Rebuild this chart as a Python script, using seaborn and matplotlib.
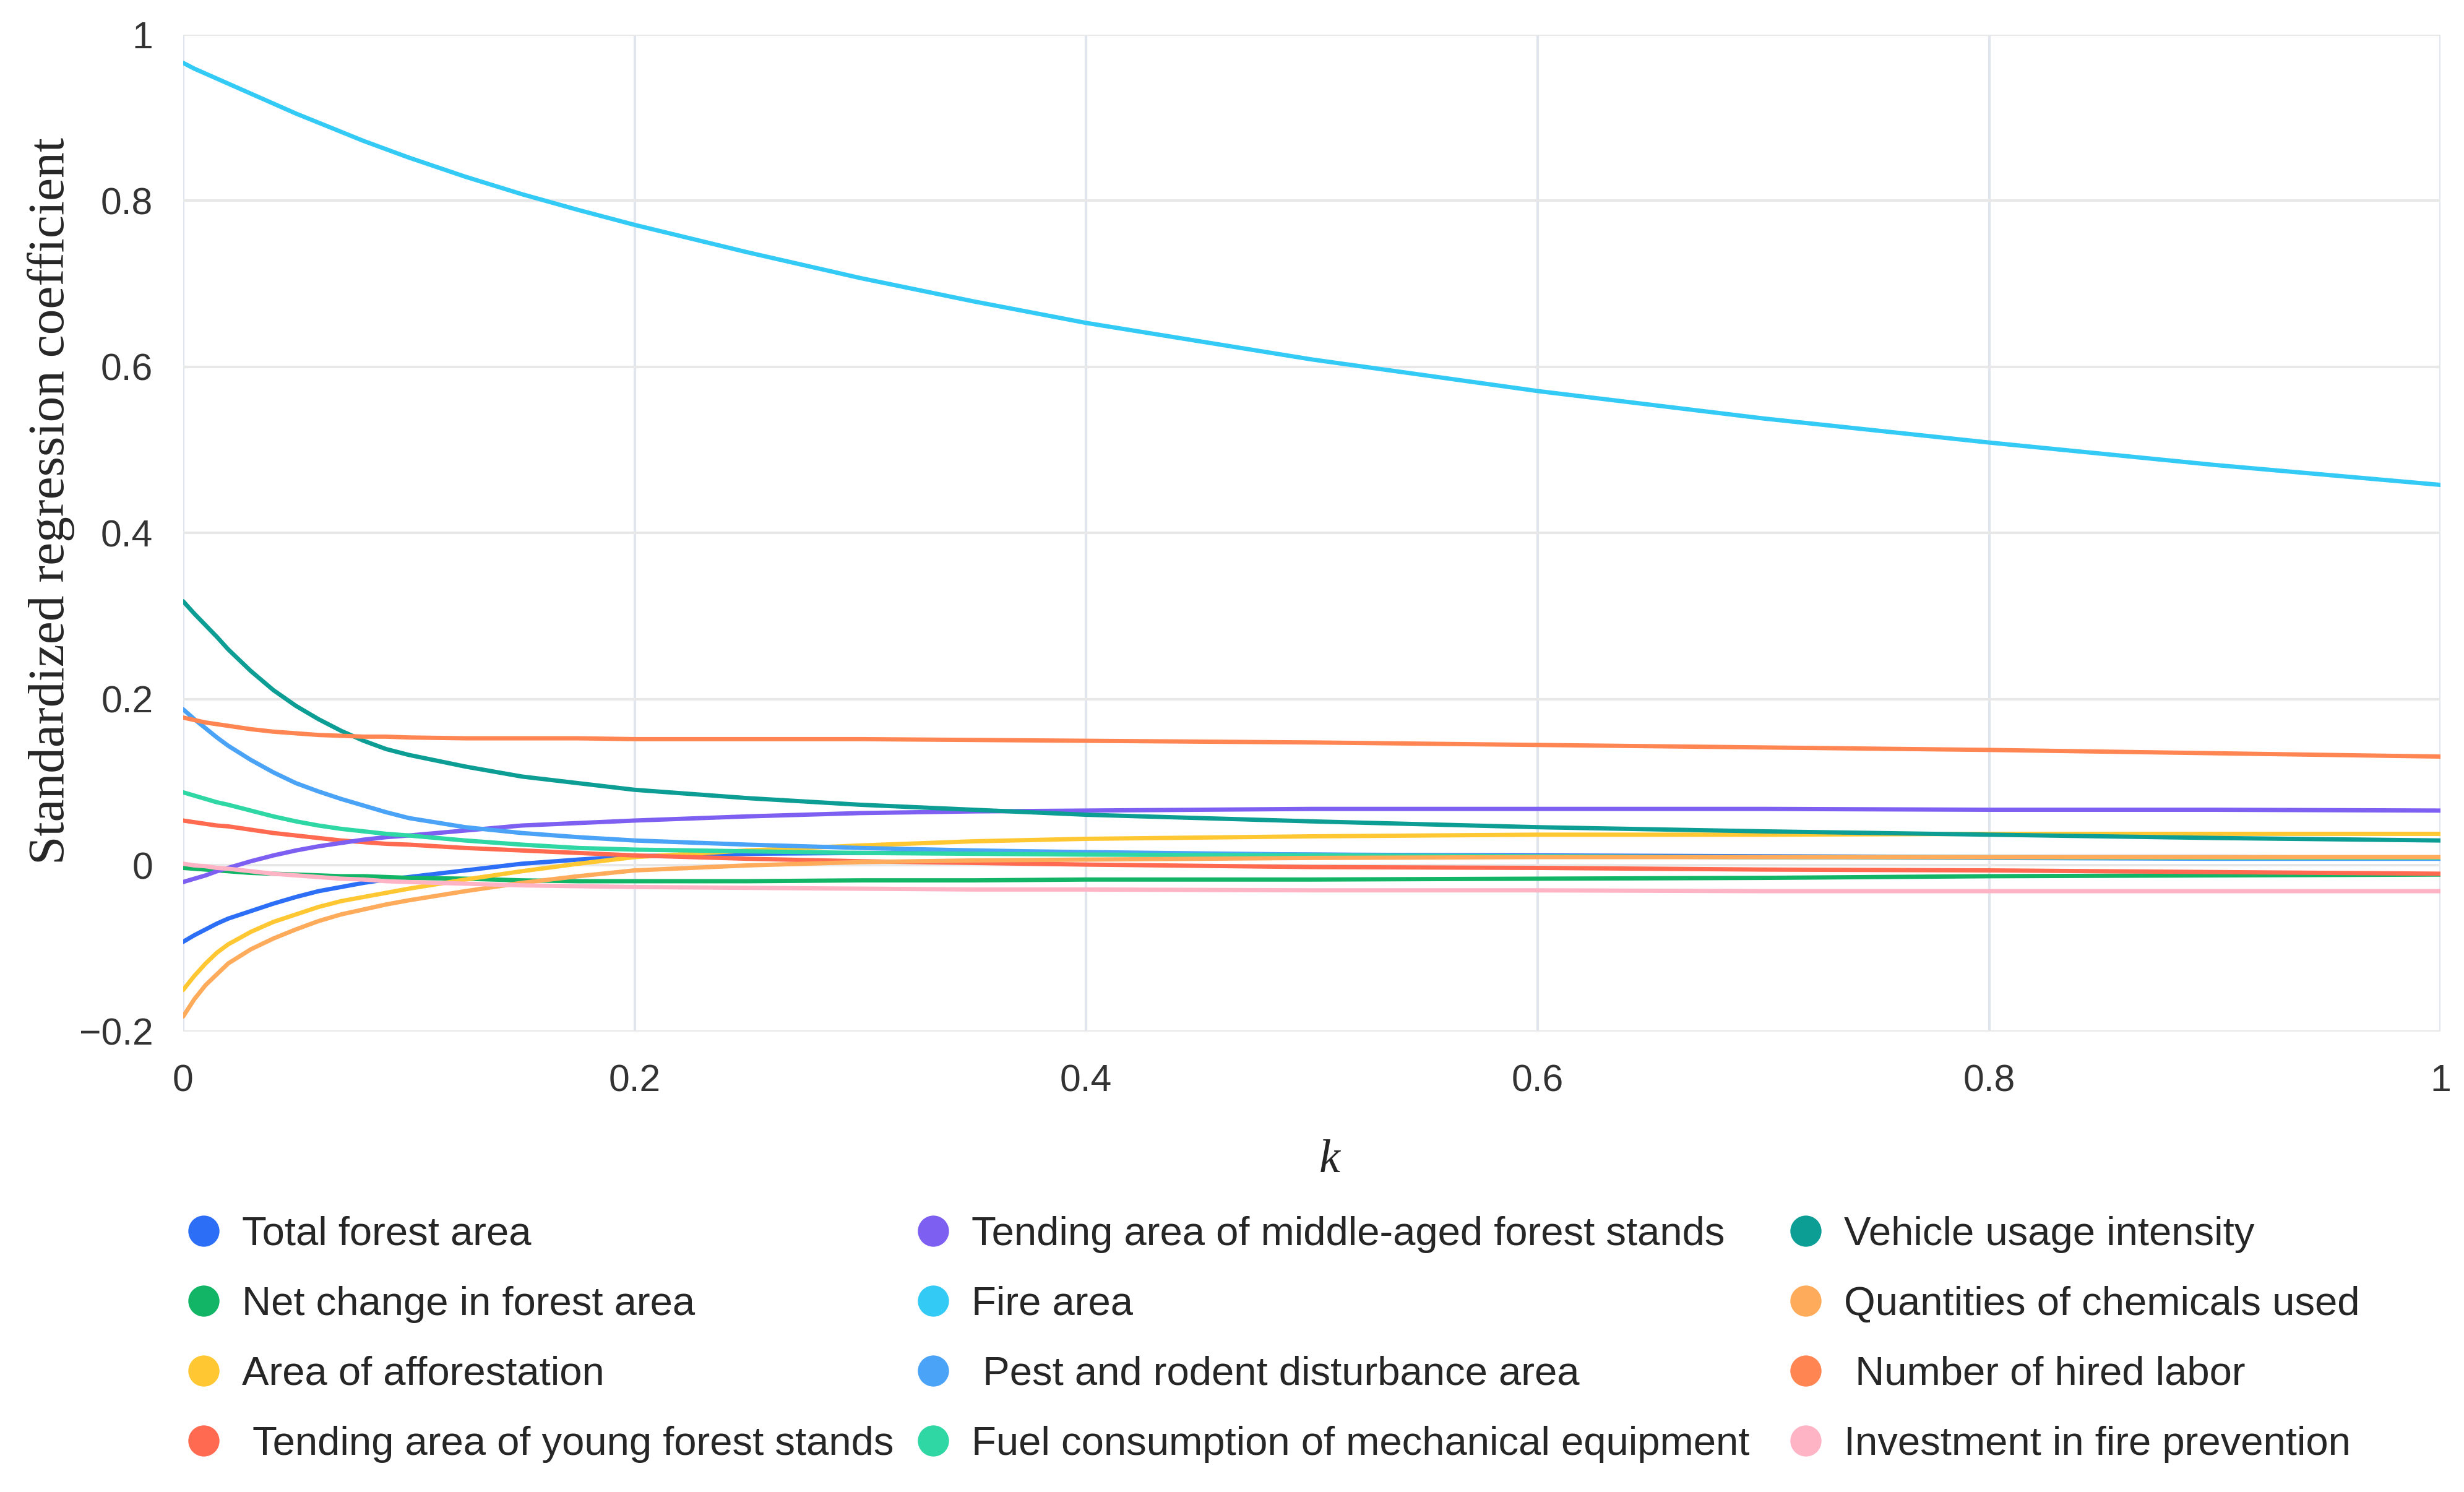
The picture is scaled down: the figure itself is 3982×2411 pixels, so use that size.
import matplotlib
matplotlib.use("Agg")
import matplotlib.pyplot as plt
from matplotlib.lines import Line2D
from matplotlib.ticker import FuncFormatter
import seaborn as sns
import pandas as pd

# ridge parameter k
k_values = [0, 0.005, 0.01, 0.015, 0.02, 0.03, 0.04, 0.05, 0.06, 0.07, 0.08, 0.09, 0.1,
            0.125, 0.15, 0.175, 0.2, 0.25, 0.3, 0.35, 0.4, 0.5, 0.6, 0.7, 0.8, 0.9, 1.0]

# standardized coefficients
total_forest = [-0.092, -0.084, -0.077, -0.070, -0.064, -0.055, -0.046, -0.038, -0.031, -0.026,
                -0.021, -0.017, -0.014, -0.006, 0.002, 0.007, 0.011, 0.014, 0.015, 0.015,
                0.014, 0.013, 0.012, 0.011, 0.010, 0.010, 0.009]
net_change = [-0.003, -0.004, -0.005, -0.006, -0.007, -0.009, -0.010, -0.011, -0.012, -0.013,
              -0.013, -0.014, -0.015, -0.016, -0.018, -0.019, -0.019, -0.019, -0.018, -0.018,
              -0.017, -0.017, -0.016, -0.015, -0.013, -0.012, -0.011]
afforestation = [-0.150, -0.133, -0.118, -0.105, -0.095, -0.080, -0.068, -0.059, -0.050, -0.043,
                 -0.038, -0.033, -0.028, -0.017, -0.007, 0.002, 0.010, 0.018, 0.024, 0.029,
                 0.032, 0.035, 0.037, 0.037, 0.038, 0.038, 0.038]
young_stands = [0.054, 0.052, 0.050, 0.048, 0.047, 0.043, 0.039, 0.036, 0.033, 0.030,
                0.028, 0.026, 0.025, 0.021, 0.018, 0.015, 0.012, 0.008, 0.005, 0.003,
                0.001, -0.002, -0.003, -0.005, -0.006, -0.008, -0.010]
middle_stands = [-0.020, -0.016, -0.012, -0.007, -0.003, 0.005, 0.012, 0.018, 0.023, 0.027,
                 0.031, 0.034, 0.036, 0.042, 0.048, 0.051, 0.054, 0.059, 0.063, 0.065,
                 0.066, 0.068, 0.068, 0.068, 0.067, 0.067, 0.066]
fire_area = [0.966, 0.959, 0.953, 0.947, 0.941, 0.929, 0.917, 0.905, 0.894, 0.883,
             0.872, 0.862, 0.852, 0.829, 0.808, 0.789, 0.771, 0.738, 0.707, 0.679,
             0.653, 0.609, 0.571, 0.538, 0.509, 0.482, 0.458]
pest_rodent = [0.188, 0.176, 0.165, 0.154, 0.144, 0.127, 0.112, 0.099, 0.089, 0.080,
               0.072, 0.064, 0.057, 0.046, 0.039, 0.034, 0.030, 0.025, 0.021, 0.018,
               0.016, 0.013, 0.011, 0.010, 0.009, 0.008, 0.008]
fuel = [0.088, 0.084, 0.080, 0.076, 0.073, 0.066, 0.059, 0.053, 0.048, 0.044,
        0.041, 0.038, 0.036, 0.030, 0.025, 0.021, 0.019, 0.017, 0.015, 0.014,
        0.013, 0.012, 0.011, 0.010, 0.010, 0.009, 0.009]
vehicle = [0.318, 0.303, 0.289, 0.275, 0.260, 0.234, 0.211, 0.192, 0.176, 0.162,
           0.150, 0.140, 0.133, 0.119, 0.107, 0.099, 0.091, 0.081, 0.073, 0.067,
           0.061, 0.053, 0.046, 0.041, 0.037, 0.033, 0.030]
chemicals = [-0.182, -0.161, -0.144, -0.131, -0.118, -0.101, -0.088, -0.077, -0.067, -0.059,
             -0.053, -0.047, -0.042, -0.031, -0.021, -0.013, -0.006, 0.000, 0.004, 0.006,
             0.007, 0.009, 0.010, 0.010, 0.010, 0.010, 0.010]
hired_labor = [0.178, 0.175, 0.172, 0.170, 0.168, 0.164, 0.161, 0.159, 0.157, 0.156,
               0.155, 0.155, 0.154, 0.153, 0.153, 0.153, 0.152, 0.152, 0.152, 0.151,
               0.150, 0.148, 0.145, 0.142, 0.139, 0.135, 0.131]
fire_invest = [0.002, 0.000, -0.001, -0.003, -0.004, -0.007, -0.010, -0.012, -0.014, -0.016,
               -0.017, -0.019, -0.020, -0.022, -0.024, -0.025, -0.026, -0.027, -0.028, -0.029,
               -0.029, -0.030, -0.030, -0.031, -0.031, -0.031, -0.031]

# legend order: three columns of four
series_labels = [
    "Total forest area",
    "Net change in forest area",
    "Area of afforestation",
    " Tending area of young forest stands",
    "Tending area of middle\u2010aged forest stands",
    "Fire area",
    " Pest and rodent disturbance area",
    "Fuel consumption of mechanical equipment",
    "Vehicle usage intensity",
    "Quantities of chemicals used",
    " Number of hired labor",
    "Investment in fire prevention",
]
series_values = [total_forest, net_change, afforestation, young_stands,
                 middle_stands, fire_area, pest_rodent, fuel,
                 vehicle, chemicals, hired_labor, fire_invest]
series_colors = ["#2d6ef7", "#12b566", "#ffc833", "#ff6a50",
                 "#7d5ff2", "#33cbf6", "#4aa3f6", "#2ed7a4",
                 "#0c9d94", "#ffab5c", "#ff8552", "#ffb4c6"]

rows = []
for label, vals in zip(series_labels, series_values):
    for k, v in zip(k_values, vals):
        rows.append({"k": k, "coef": v, "series": label})
df = pd.DataFrame(rows)
palette = dict(zip(series_labels, series_colors))

sns.set_style("white")
fig = plt.figure(figsize=(3982 / 250, 2411 / 250), dpi=250)
ax = fig.add_axes([0.0743, 0.3086, 0.9162, 0.6682])

sns.lineplot(data=df, x="k", y="coef", hue="series", hue_order=series_labels,
             palette=palette, linewidth=2.0, legend=False, ax=ax, zorder=3)

ax.set_xlim(0, 1)
ax.set_ylim(-0.2, 1)
ax.set_xticks([0, 0.2, 0.4, 0.6, 0.8, 1.0])
ax.set_yticks([-0.2, 0, 0.2, 0.4, 0.6, 0.8, 1.0])

def fmt(v, pos):
    s = f"{v:.1f}".rstrip("0").rstrip(".")
    if s in ("-0", ""):
        s = "0"
    return s.replace("-", "\u2212")

ax.xaxis.set_major_formatter(FuncFormatter(fmt))
ax.yaxis.set_major_formatter(FuncFormatter(fmt))
ax.tick_params(axis="both", length=0, labelsize=17.5, labelcolor="#333333")
ax.tick_params(axis="x", pad=15)
ax.tick_params(axis="y", pad=14)
for lab in ax.get_xticklabels() + ax.get_yticklabels():
    lab.set_family("Liberation Sans")

ax.grid(axis="y", color="#e8e8e8", linewidth=1.2)
ax.grid(axis="x", color="#e1e5ee", linewidth=1.2)
for sp in ax.spines.values():
    sp.set_visible(False)

ax.set_xlabel("k", fontsize=22, family="Liberation Serif", style="italic")
ax.xaxis.set_label_coords(0.508, -0.108)
ax.set_ylabel("Standardized regression coefficient", fontsize=24,
              family="Liberation Serif")
ax.yaxis.set_label_coords(-0.048, 0.532)

# one legend per column so the columns sit where the reference has them
col_x = [0.0744, 0.3705, 0.7246]
for c in range(3):
    idx = range(4 * c, 4 * c + 4)
    handles = [Line2D([0], [0], marker="o", linestyle="", markersize=13.5,
                      markerfacecolor=series_colors[i], markeredgecolor=series_colors[i])
               for i in idx]
    fig.legend(handles, [series_labels[i] for i in idx], loc="upper left",
               bbox_to_anchor=(col_x[c], 0.185), frameon=False,
               prop={"family": "Liberation Sans", "size": 18.8},
               handlelength=1.0, handletextpad=0.45, labelspacing=0.81,
               borderpad=0, borderaxespad=0, labelcolor="#262626")

fig.savefig("out.png", dpi=250)
